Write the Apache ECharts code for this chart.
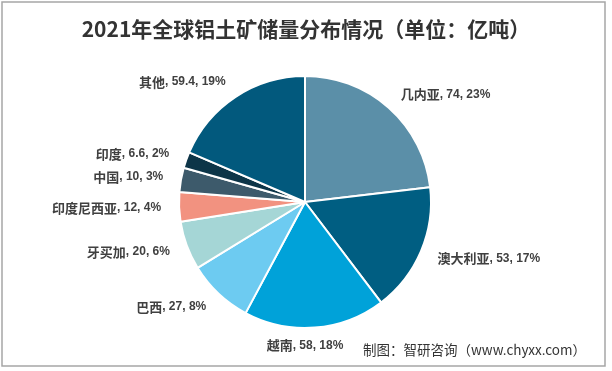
<!DOCTYPE html>
<html>
<head>
<meta charset="utf-8">
<script src="https://cdn.jsdelivr.net/npm/echarts@6/dist/echarts.min.js"></script>
<style>
html,body{margin:0;padding:0;background:#fff;}
#main{width:612px;height:371px;}
</style>
</head>
<body>
<div id="main"></div>
<script>
const categories = ['几内亚', '澳大利亚', '越南', '巴西', '牙买加', '印度尼西亚', '中国', '印度', '其他'];
const values = [74, 53, 58, 27, 20, 12, 10, 6.6, 59.4];
const percents = ['23%', '17%', '18%', '8%', '6%', '4%', '3%', '2%', '19%'];
const colors = ['#5b8fa8', '#005e82', '#00a2d9', '#6dcbf1', '#a5d6d6', '#f29280', '#3d5a6b', '#0d3548', '#02597d'];

const CX = 305, CY = 202;
const chart = echarts.init(document.getElementById('main'));
chart.setOption({
  animation: false,
  backgroundColor: '#fff',
  title: {
    text: '2021年全球铝土矿储量分布情况（单位：亿吨）',
    left: 'center',
    top: 14,
    textStyle: {
      fontFamily: 'Noto Sans CJK SC',
      fontWeight: 'bold',
      fontSize: 21,
      color: '#333333'
    }
  },
  graphic: [
    {
      type: 'rect',
      shape: { x: 2, y: 2, width: 603, height: 364 },
      style: { fill: 'none', stroke: '#a6a6a6', lineWidth: 1.5 },
      silent: true
    },
    {
      type: 'text',
      left: 363,
      top: 343,
      style: {
        text: '制图：智研咨询（www.chyxx.com）',
        fontFamily: 'Noto Sans CJK SC',
        fontSize: 13.5,
        fill: '#333333'
      }
    }
  ],
  series: [{
    type: 'pie',
    center: [CX, CY],
    radius: 126,
    startAngle: 90,
    clockwise: true,
    avoidLabelOverlap: false,
    itemStyle: { borderColor: '#ffffff', borderWidth: 2 },
    label: {
      show: true,
      position: 'outside',
      distanceToLabelLine: 0,
      formatter: function (p) {
        return '{n|' + p.name + '}{v|, ' + p.value + ', ' + percents[p.dataIndex] + '}';
      },
      rich: {
        n: { fontFamily: 'Noto Sans CJK SC', fontWeight: 'bold', fontSize: 13, color: '#404040' },
        v: { fontFamily: 'Liberation Sans', fontWeight: 'bold', fontSize: 12, color: '#404040' }
      }
    },
    labelLine: { show: false, length: 18, length2: 0 },
    labelLayout: function (p) {
      if (p.dataIndex === 2) {
        return { x: CX, align: 'center' };
      }
    },
    data: categories.map(function (c, i) {
      return { name: c, value: values[i], itemStyle: { color: colors[i] } };
    })
  }]
});
</script>
</body>
</html>
